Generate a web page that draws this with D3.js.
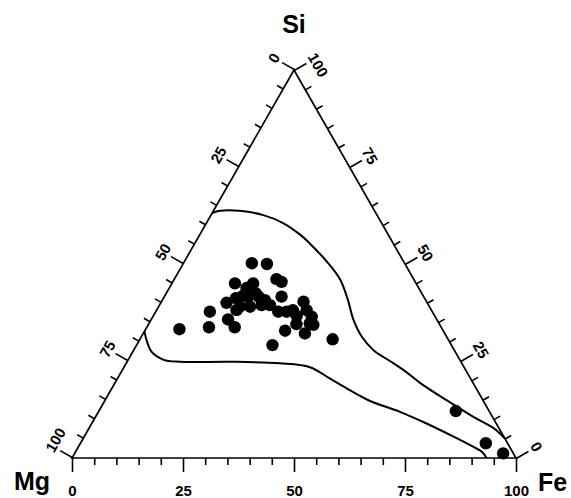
<!DOCTYPE html>
<html>
<head>
<meta http-equiv="Content-Type" content="text/html; charset=utf-8" />
<script src="https://cdn.jsdelivr.net/npm/d3@7/dist/d3.min.js"></script>
<title>Mg-Fe-Si ternary</title>
<style>body{margin:0;background:#fff}</style>
</head>
<body>
<svg width="571" height="498" id="mainsvg"></svg>
<script>
// samples, Fe and Si in %, Mg = rest
const pointFe = [7.6, 14.0, 12.2, 15.4, 18.9, 23.0, 24.5, 14.2, 18.3, 17.4, 14.8, 16.3, 18.3, 18.9, 21.2, 20.6, 23.0, 24.9, 26.4, 27.6, 29.5, 30.7, 32.0, 33.8, 35.8, 36.2, 33.3, 36.4, 31.6, 17.3, 19.8, 30.6, 43.4, 18.0, 20.1, 32.3, 23.1, 37.2, 17.6, 80.4, 91.3, 96.5];
const pointSi = [33.2, 33.7, 37.7, 50.2, 50.0, 46.1, 45.4, 45.0, 45.0, 43.8, 40.0, 41.2, 39.0, 41.6, 41.6, 39.0, 39.4, 39.4, 41.6, 37.7, 37.7, 38.1, 40.3, 38.1, 36.4, 34.7, 34.5, 32.1, 32.8, 35.7, 33.7, 29.1, 30.6, 38.1, 42.5, 36.6, 40.7, 34.3, 41.8, 12.1, 3.8, 1.2];

// field boundaries
const upperFe = [0, 1.5, 5.9, 11.8, 17.4, 22.7, 25.9, 32.1, 37.5, 41.8, 45.6, 49.6, 54.0, 59.1, 63.8, 68.8, 76.9, 85.1, 91.1, 94.9];
const upperSi = [63.1, 63.7, 63.7, 62.6, 60.5, 57.5, 55.3, 50.6, 45.9, 40.7, 35.6, 31.3, 27.8, 25.0, 22.4, 19.3, 14.9, 10.6, 7.7, 5.1];
const lowerFe = [0, 1.9, 4.2, 8.0, 11.9, 23.2, 34.6, 41.9, 47.8, 53.8, 59.8, 67.9, 75.4, 83.2, 88.9, 91.5, 93.4];
const lowerSi = [32.6, 30.0, 27.4, 25.3, 24.8, 24.8, 24.4, 23.4, 20.5, 17.5, 14.7, 11.9, 8.9, 5.5, 2.9, 1.6, 0];

const majorTicks = [0, 25, 50, 75, 100];
const minorTicks = [5, 10, 15, 20, 30, 35, 40, 45, 55, 60, 65, 70, 80, 85, 90, 95];
const cornerNames = ['Mg', 'Fe', 'Si'];

let svg = d3.select('#mainsvg');
const font = 'Arial, "Liberation Sans", Helvetica, sans-serif';

const mg = [72, 458], fe = [516, 458], si = [294, 70];
const x = d3.scaleLinear().domain([0, 100]).range([mg[0], fe[0]]);
const y = d3.scaleLinear().domain([0, 100]).range([mg[1], si[1]]);
const proj = (f, s) => [x(f + s / 2), y(s)];

// triangle
svg.append('path')
	.attr('d', d3.line()([mg, fe, si]) + 'Z')
	.attr('fill', 'none').attr('stroke', 'black').attr('stroke-width', 1.7);

function styleAxis(g) {
	g.select('.domain').remove();
	g.selectAll('line').attr('stroke', 'black').attr('stroke-width', 1.6);
	g.selectAll('text').attr('font-size', 15).attr('font-weight', 'bold')
		.attr('font-family', font).attr('fill', 'black');
}

// bottom axis (Fe)
svg.append('g').attr('transform', `translate(0,${mg[1]})`)
	.call(d3.axisBottom(x).tickValues(minorTicks).tickSize(7).tickSizeOuter(0).tickFormat(''))
	.call(styleAxis);
svg.append('g').attr('transform', `translate(0,${mg[1]})`)
	.call(d3.axisBottom(x).tickValues(majorTicks).tickSize(14).tickSizeOuter(0).tickPadding(13))
	.call(styleAxis);

// side axes, drawn in a rotated frame
const sideLen = Math.hypot(si[0] - mg[0], si[1] - mg[1]);
const side = d3.scaleLinear().domain([100, 0]).range([0, sideLen]);
const angL = Math.atan2(si[1] - mg[1], si[0] - mg[0]) * 180 / Math.PI;
const angR = Math.atan2(fe[1] - si[1], fe[0] - si[0]) * 180 / Math.PI;

[[mg, angL], [si, angR]].forEach(([p, ang]) => {
	let g = svg.append('g').attr('transform', `translate(${p[0]},${p[1]}) rotate(${ang})`);
	g.append('g')
		.call(d3.axisTop(side).tickValues(minorTicks).tickSize(7).tickSizeOuter(0).tickFormat(''))
		.call(styleAxis);
	g.append('g')
		.call(d3.axisTop(side).tickValues(majorTicks).tickSize(14).tickSizeOuter(0).tickPadding(4))
		.call(styleAxis)
		.selectAll('text').attr('dx', d => d === 100 ? 7 : 0);
});

// boundaries
const curve = d3.line().curve(d3.curveCatmullRom.alpha(0.5));
[[upperFe, upperSi], [lowerFe, lowerSi]].forEach(([fs, ss]) => {
	svg.append('path')
		.attr('d', curve(fs.map((f, i) => proj(f, ss[i]))))
		.attr('fill', 'none').attr('stroke', 'black').attr('stroke-width', 2);
});

// samples
svg.selectAll('.pt').data(pointFe).join('circle')
	.attr('class', 'pt')
	.attr('cx', (d, i) => proj(d, pointSi[i])[0])
	.attr('cy', (d, i) => proj(d, pointSi[i])[1])
	.attr('r', 6.2).attr('fill', 'black');

// corner names
const cornerPos = [[mg[0] - 58, mg[1] + 32, 'start'], [fe[0] + 22, fe[1] + 33, 'start'], [si[0], si[1] - 37, 'middle']];
svg.selectAll('.corner').data(cornerNames).join('text')
	.attr('class', 'corner')
	.attr('x', (d, i) => cornerPos[i][0]).attr('y', (d, i) => cornerPos[i][1])
	.attr('text-anchor', (d, i) => cornerPos[i][2])
	.attr('font-family', font).attr('font-weight', 'bold').attr('font-size', 25)
	.text(d => d);
</script>
</body>
</html>
